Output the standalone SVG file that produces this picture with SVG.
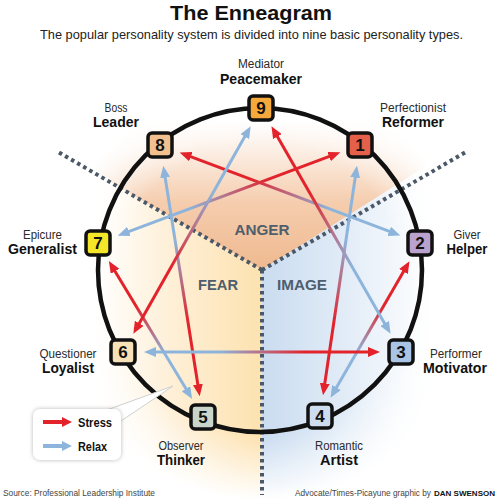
<svg xmlns="http://www.w3.org/2000/svg" width="499" height="500" viewBox="0 0 499 500">
<style>
.lbl{font-family:"Liberation Sans",Arial,sans-serif;font-size:12.5px;fill:#2a2a2a;text-anchor:middle}
.bl{font-family:"Liberation Sans",Arial,sans-serif;font-size:14px;font-weight:bold;fill:#111;text-anchor:middle}
.sec{font-family:"Liberation Sans",Arial,sans-serif;font-size:15px;font-weight:bold;fill:#4f5e6d;text-anchor:middle}
.num{font-family:"Liberation Sans",Arial,sans-serif;font-size:17px;font-weight:bold;fill:#111;text-anchor:middle}
.box{stroke:#111;stroke-width:3.5}
.dot{stroke:#4a5867;stroke-width:4;stroke-dasharray:3.5 3.5;fill:none}
.ft{font-family:"Liberation Sans",Arial,sans-serif;font-size:9.5px;fill:#444}
#connectors line{stroke-width:3;fill:none;marker-start:url(#ab);marker-end:url(#ar)}
</style>
<defs>
<marker id="ar" viewBox="0 0 12 10" refX="1" refY="5" markerWidth="12" markerHeight="10" markerUnits="userSpaceOnUse" orient="auto"><path d="M0,0 L12,5 L0,10 z" fill="#e3232b"/></marker>
<marker id="ab" viewBox="0 0 12 10" refX="1" refY="5" markerWidth="12" markerHeight="10" markerUnits="userSpaceOnUse" orient="auto-start-reverse"><path d="M0,0 L12,5 L0,10 z" fill="#8db5dc"/></marker>
<linearGradient id="ga" gradientUnits="userSpaceOnUse" x1="0" y1="270" x2="0" y2="120"><stop offset="0" stop-color="#efb98f"/><stop offset="0.45" stop-color="#f5cdae"/><stop offset="0.8" stop-color="#fcefe5"/><stop offset="1" stop-color="#fff"/></linearGradient>
<linearGradient id="gf" gradientUnits="userSpaceOnUse" x1="262" y1="0" x2="95" y2="0"><stop offset="0" stop-color="#fde2b0"/><stop offset="0.5" stop-color="#feeed3"/><stop offset="1" stop-color="#fff"/></linearGradient>
<linearGradient id="gi" gradientUnits="userSpaceOnUse" x1="262" y1="0" x2="430" y2="0"><stop offset="0" stop-color="#cadcf0"/><stop offset="0.5" stop-color="#e2ecf7"/><stop offset="1" stop-color="#fff"/></linearGradient>
<radialGradient id="mg" gradientUnits="userSpaceOnUse" cx="262" cy="290" r="210"><stop offset="0.7" stop-color="#fff"/><stop offset="1" stop-color="#000"/></radialGradient>
<mask id="m"><rect width="499" height="500" fill="url(#mg)"/></mask>
<filter id="sh" x="-20%" y="-20%" width="140%" height="140%"><feDropShadow dx="0" dy="0" stdDeviation="2" flood-color="#999" flood-opacity="0.7"/></filter>
<linearGradient id="c1" gradientUnits="userSpaceOnUse" x1="355.33" y1="176.66" x2="324.67" y2="384.34"><stop offset="0.3" stop-color="#8db5dc"/><stop offset="0.7" stop-color="#e3232b"/></linearGradient>
<linearGradient id="c2" gradientUnits="userSpaceOnUse" x1="336.02" y1="388.29" x2="403.98" y2="270.71"><stop offset="0.3" stop-color="#8db5dc"/><stop offset="0.7" stop-color="#e3232b"/></linearGradient>
<linearGradient id="c3" gradientUnits="userSpaceOnUse" x1="390.06" y1="231.72" x2="189.94" y2="156.28"><stop offset="0.3" stop-color="#8db5dc"/><stop offset="0.7" stop-color="#e3232b"/></linearGradient>
<linearGradient id="c4" gradientUnits="userSpaceOnUse" x1="165" y1="176.6" x2="198" y2="385.4"><stop offset="0.3" stop-color="#8db5dc"/><stop offset="0.7" stop-color="#e3232b"/></linearGradient>
<linearGradient id="c5" gradientUnits="userSpaceOnUse" x1="186.46" y1="389.6" x2="114.54" y2="270.4"><stop offset="0.3" stop-color="#8db5dc"/><stop offset="0.7" stop-color="#e3232b"/></linearGradient>
<linearGradient id="c6" gradientUnits="userSpaceOnUse" x1="127.97" y1="231.79" x2="330.03" y2="156.21"><stop offset="0.3" stop-color="#8db5dc"/><stop offset="0.7" stop-color="#e3232b"/></linearGradient>
<linearGradient id="c7" gradientUnits="userSpaceOnUse" x1="245.25" y1="135.86" x2="138.75" y2="324.14"><stop offset="0.3" stop-color="#8db5dc"/><stop offset="0.7" stop-color="#e3232b"/></linearGradient>
<linearGradient id="c8" gradientUnits="userSpaceOnUse" x1="155" y1="352" x2="369" y2="352"><stop offset="0.3" stop-color="#8db5dc"/><stop offset="0.7" stop-color="#e3232b"/></linearGradient>
<linearGradient id="c9" gradientUnits="userSpaceOnUse" x1="385.07" y1="324.24" x2="276.93" y2="135.76"><stop offset="0.3" stop-color="#8db5dc"/><stop offset="0.7" stop-color="#e3232b"/></linearGradient>
</defs>
<rect width="499" height="500" fill="#fff"/>
<g id="sectors" mask="url(#m)">
<polygon points="262,270 -20,107 -20,50 520,50 520,107" fill="url(#ga)"/>
<polygon points="262,270 -20,107 -20,500 262,500" fill="url(#gf)"/>
<polygon points="262,270 520,107 520,500 262,500" fill="url(#gi)"/>
</g>
<g id="dividers">
<line class="dot" x1="262" y1="270" x2="58" y2="152"/>
<line class="dot" x1="262" y1="270" x2="466" y2="152"/>
<line class="dot" x1="262" y1="270" x2="262" y2="495"/>
</g>
<circle cx="260" cy="270" r="162" fill="none" stroke="#111" stroke-width="4.5"/>
<text class="sec" x="262" y="235" textLength="55" lengthAdjust="spacingAndGlyphs">ANGER</text>
<text class="sec" x="218" y="290" textLength="40" lengthAdjust="spacingAndGlyphs">FEAR</text>
<text class="sec" x="302" y="290" textLength="50" lengthAdjust="spacingAndGlyphs">IMAGE</text>
<g id="connectors">
<line x1="355.33" y1="176.66" x2="324.67" y2="384.34" stroke="url(#c1)"/>
<line x1="336.02" y1="388.29" x2="403.98" y2="270.71" stroke="url(#c2)"/>
<line x1="390.06" y1="231.72" x2="189.94" y2="156.28" stroke="url(#c3)"/>
<line x1="165" y1="176.6" x2="198" y2="385.4" stroke="url(#c4)"/>
<line x1="186.46" y1="389.6" x2="114.54" y2="270.4" stroke="url(#c5)"/>
<line x1="127.97" y1="231.79" x2="330.03" y2="156.21" stroke="url(#c6)"/>
<line x1="245.25" y1="135.86" x2="138.75" y2="324.14" stroke="url(#c7)"/>
<line x1="155" y1="352" x2="369" y2="352" stroke="url(#c8)"/>
<line x1="385.07" y1="324.24" x2="276.93" y2="135.76" stroke="url(#c9)"/>
</g>
<g id="node9"><rect class="box" x="249" y="96" width="24" height="24" rx="4" fill="#f6a93b"/><text class="num" x="261" y="114">9</text>
<text class="lbl" x="261" y="67.5" textLength="46" lengthAdjust="spacingAndGlyphs">Mediator</text><text class="bl" x="261" y="84" textLength="82" lengthAdjust="spacingAndGlyphs">Peacemaker</text></g>
<g id="node1"><rect class="box" x="348" y="133" width="24" height="24" rx="4" fill="#e5604b"/><text class="num" x="360" y="151">1</text>
<text class="lbl" x="413" y="112" textLength="66" lengthAdjust="spacingAndGlyphs">Perfectionist</text><text class="bl" x="413" y="127" textLength="62" lengthAdjust="spacingAndGlyphs">Reformer</text></g>
<g id="node2"><rect class="box" x="408" y="231" width="24" height="24" rx="4" fill="#b9a2cd"/><text class="num" x="420" y="249">2</text>
<text class="lbl" x="467" y="239" textLength="27" lengthAdjust="spacingAndGlyphs">Giver</text><text class="bl" x="467" y="254" textLength="41" lengthAdjust="spacingAndGlyphs">Helper</text></g>
<g id="node3"><rect class="box" x="389" y="340" width="24" height="24" rx="4" fill="#a9c4e4"/><text class="num" x="401" y="358">3</text>
<text class="lbl" x="456" y="358" textLength="52" lengthAdjust="spacingAndGlyphs">Performer</text><text class="bl" x="455" y="373" textLength="64" lengthAdjust="spacingAndGlyphs">Motivator</text></g>
<g id="node4"><rect class="box" x="308" y="404" width="24" height="24" rx="4" fill="#cddcee"/><text class="num" x="320" y="422">4</text>
<text class="lbl" x="339" y="450" textLength="48" lengthAdjust="spacingAndGlyphs">Romantic</text><text class="bl" x="339" y="465" textLength="38" lengthAdjust="spacingAndGlyphs">Artist</text></g>
<g id="node5"><rect class="box" x="191" y="405" width="24" height="24" rx="4" fill="#c9d5cb"/><text class="num" x="203" y="423">5</text>
<text class="lbl" x="181" y="450" textLength="45" lengthAdjust="spacingAndGlyphs">Observer</text><text class="bl" x="181" y="465" textLength="48" lengthAdjust="spacingAndGlyphs">Thinker</text></g>
<g id="node6"><rect class="box" x="111" y="340" width="24" height="24" rx="4" fill="#f6e2b6"/><text class="num" x="123" y="358">6</text>
<text class="lbl" x="68" y="358" textLength="57" lengthAdjust="spacingAndGlyphs">Questioner</text><text class="bl" x="68" y="373" textLength="52" lengthAdjust="spacingAndGlyphs">Loyalist</text></g>
<g id="node7"><rect class="box" x="86" y="231" width="24" height="24" rx="4" fill="#f4e72a"/><text class="num" x="98" y="249">7</text>
<text class="lbl" x="42.5" y="239" textLength="39" lengthAdjust="spacingAndGlyphs">Epicure</text><text class="bl" x="42.5" y="254" textLength="69" lengthAdjust="spacingAndGlyphs">Generalist</text></g>
<g id="node8"><rect class="box" x="148" y="133" width="24" height="24" rx="4" fill="#f2c08f"/><text class="num" x="160" y="151">8</text>
<text class="lbl" x="116" y="112" textLength="23" lengthAdjust="spacingAndGlyphs">Boss</text><text class="bl" x="116" y="127" textLength="46" lengthAdjust="spacingAndGlyphs">Leader</text></g>
<g id="legend">
<polygon points="104,411 173,386 121,421" fill="#fff" stroke="#d0d0d0" stroke-width="1"/>
<rect x="33" y="409" width="88" height="51" rx="7" fill="#fff" filter="url(#sh)"/>
<path d="M43,420 H62 V417 L72,422 L62,427 V424 H43 z" fill="#e3232b"/>
<path d="M43,444 H62 V441 L72,446 L62,451 V448 H43 z" fill="#8db5dc"/>
<text class="bl" x="78" y="427" textLength="34" lengthAdjust="spacingAndGlyphs" style="text-anchor:start;font-size:13px">Stress</text>
<text class="bl" x="78" y="451" textLength="29" lengthAdjust="spacingAndGlyphs" style="text-anchor:start;font-size:13px">Relax</text>
</g>
<text x="251" y="20" textLength="162" lengthAdjust="spacingAndGlyphs" style="font-family:'Liberation Sans',Arial,sans-serif;font-size:21px;font-weight:bold;fill:#111;text-anchor:middle">The Enneagram</text>
<text x="251.5" y="39" textLength="423" lengthAdjust="spacingAndGlyphs" style="font-family:'Liberation Sans',Arial,sans-serif;font-size:13.5px;fill:#222;text-anchor:middle">The popular personality system is divided into nine basic personality types.</text>
<text class="ft" x="3" y="496" textLength="152" lengthAdjust="spacingAndGlyphs">Source: Professional Leadership Institute</text>
<text class="ft" x="295" y="496" textLength="136" lengthAdjust="spacingAndGlyphs" style="font-size:8.3px">Advocate/Times-Picayune graphic by</text>
<text class="ft" x="434" y="496" textLength="61" lengthAdjust="spacingAndGlyphs" style="font-size:8px;font-weight:bold;fill:#111">DAN SWENSON</text>
</svg>
